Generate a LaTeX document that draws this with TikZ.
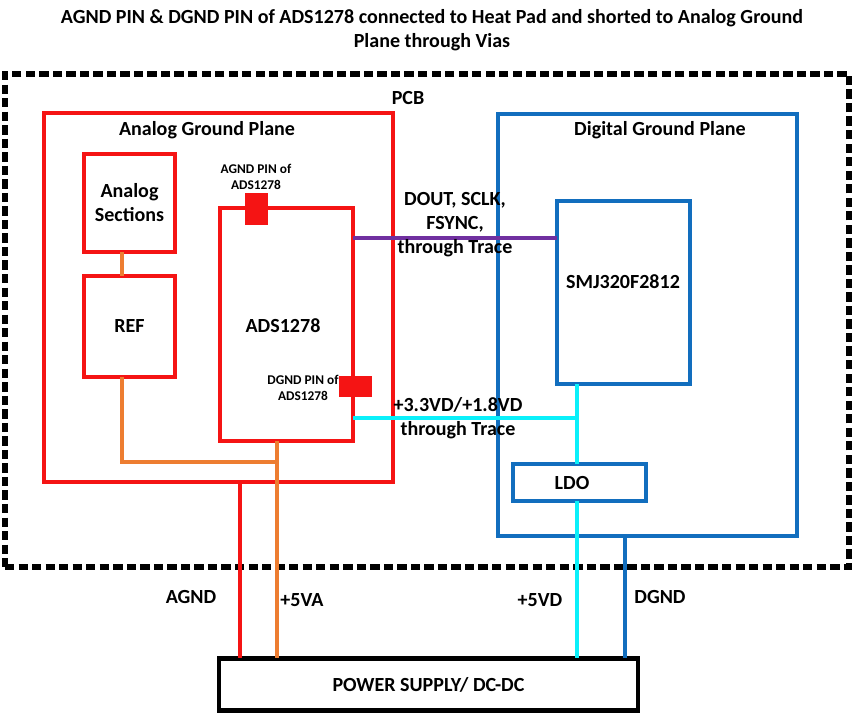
\documentclass[tikz,border=0pt]{standalone}
\usepackage{fontspec}
\setmainfont{Carlito}
\definecolor{cred}{RGB}{245,20,20}
\definecolor{corange}{RGB}{237,125,49}
\definecolor{cblue}{RGB}{18,110,190}
\definecolor{ccyan}{RGB}{10,240,250}
\definecolor{cpurple}{RGB}{112,48,160}
\newcommand\mainfs{\fontsize{11.4}{13.6}\selectfont\bfseries}
\newcommand\titlefs{\fontsize{11.4}{13.6}\selectfont\bfseries}
\newcommand\smallfs{\fontsize{7.6}{9}\selectfont\bfseries}
\begin{document}
\begin{tikzpicture}[x=0.02cm,y=-0.02cm,
  box/.style={rectangle,inner sep=0pt,outer sep=0pt,fill=white},
  redbox/.style={box,draw=cred,line width=2.7pt},
  bluebox/.style={box,draw=cblue,line width=2.3pt},
  txt/.style={inner sep=0pt,font=\mainfs,align=center},
  wire/.style={line width=2.3pt}]
\useasboundingbox (0,0) rectangle (853,715);
% title
\node[txt,font=\titlefs] (title) at (432,30) {AGND PIN \& DGND PIN of ADS1278 connected to Heat Pad and shorted to Analog Ground\\Plane through Vias};
% PCB
\node[box,fill=none,draw=black,line width=3.3pt,dash pattern=on 5.3pt off 2.4pt,minimum width=844*0.02cm,minimum height=493*0.02cm] (pcb) at (427,320.5) {};
\node[txt] (pcbl) at (408,98) {PCB};
% Analog ground plane
\node[redbox,minimum width=349*0.02cm,minimum height=369*0.02cm] (ap) at (218.5,297.5) {};
\node[txt] (apl) at (207,130) {Analog Ground Plane};
% Digital ground plane
\node[bluebox,minimum width=299*0.02cm,minimum height=422*0.02cm] (dp) at (647.5,325) {};
\node[txt] (dpl) at (660,130) {Digital Ground Plane};
% Analog sections, REF
\node[redbox,minimum width=91*0.02cm,minimum height=98*0.02cm,txt] (as) at (129.5,203) {Analog\\Sections};
\node[redbox,minimum width=91*0.02cm,minimum height=101*0.02cm,txt] (ref) at (129.5,326.5) {REF};
% ADS1278
\node[redbox,line width=2.5pt,minimum width=133*0.02cm,minimum height=233*0.02cm] (ads) at (286.5,324.5) {};
\node[txt] (adsl) at (283,326) {ADS1278};
% SMJ
\node[bluebox,minimum width=133*0.02cm,minimum height=183*0.02cm] (smj) at (623.5,292.5) {};
\node[txt] (smjl) at (623,282) {SMJ320F2812};
% LDO
\node[bluebox,minimum width=133*0.02cm,minimum height=37*0.02cm] (ldo) at (579.5,482.5) {};
\node[txt] (ldol) at (572,483) {LDO};
% power supply
\node[box,draw=black,line width=2.8pt,minimum width=419*0.02cm,minimum height=52*0.02cm,txt] (ps) at (428.5,684.5) {POWER SUPPLY/ DC-DC};
% coordinates
\coordinate (xa) at (122,0);
\coordinate (j1) at (277,462);
\coordinate (xg) at (240,0);
\coordinate (xc) at (577,0);
\coordinate (xd) at (625,0);
\coordinate (yp) at (0,238);
\coordinate (yc) at (0,418);
% orange wires
\draw[wire,corange] (xa |- as.south) -- (xa |- ref.north);
\draw[wire,corange] (xa |- ref.south) |- (j1);
\draw[wire,corange] (j1 |- ads.south) -- (j1 |- ps.north);
% AGND red
\draw[wire,cred] (xg |- ap.south) -- (xg |- ps.north);
% purple trace
\draw[wire,cpurple] (ads.east |- yp) -- (smj.west |- yp);
% cyan
\draw[wire,ccyan] (ads.east |- yc) -- (xc |- yc);
\draw[wire,ccyan] (xc |- smj.south) -- (xc |- ldo.north);
\draw[wire,ccyan] (xc |- ldo.south) -- (xc |- ps.north);
% DGND blue
\draw[wire,cblue] (xd |- dp.south) -- (xd |- ps.north);
% pins
\fill[cred] (245,193) rectangle (268,225);
\fill[cred] (339,376) rectangle (372,397);
\node[txt,font=\smallfs] (agndpin) at (256,177) {AGND PIN of\\ADS1278};
\node[txt,font=\smallfs] (dgndpin) at (303,388) {DGND PIN of\\ADS1278};
% trace labels
\node[txt] (doutl) at (455,225) {DOUT, SCLK,\\FSYNC,\\through Trace};
\node[txt] (pwrl) at (458,418) {+3.3VD/+1.8VD\\through Trace};
% wire labels
\node[txt] (agndl) at (191,597) {AGND};
\node[txt] (v5al) at (302,600) {+5VA};
\node[txt] (v5dl) at (540,600) {+5VD};
\node[txt] (dgndl) at (660,597) {DGND};
\end{tikzpicture}
\end{document}
